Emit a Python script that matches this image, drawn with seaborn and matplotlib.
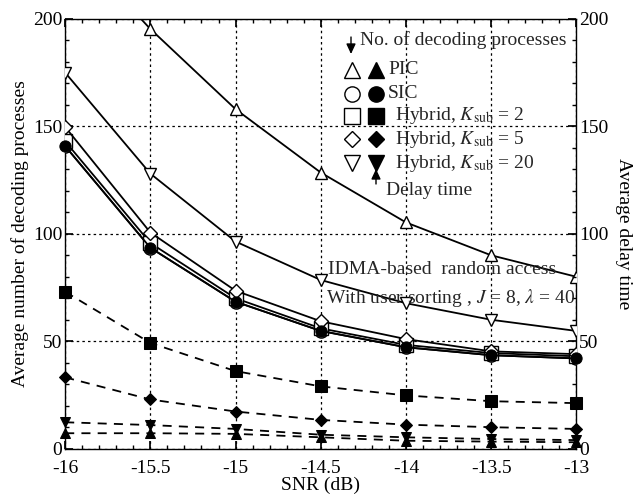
import numpy as np
import pandas as pd
import seaborn as sns
import matplotlib
matplotlib.use("Agg")
import matplotlib.pyplot as plt
from matplotlib.ticker import MultipleLocator
from matplotlib.patches import FancyArrowPatch
from matplotlib.lines import Line2D

snr = [-16, -15.5, -15, -14.5, -14, -13.5, -13]

# Average number of decoding processes (open markers, solid lines)
dec_pic = [238, 195.3, 158, 128.5, 105.3, 90, 80]
dec_sic = [140.8, 93.5, 68.4, 54.8, 47.2, 43.5, 42]
dec_h2 = [143, 95.7, 70, 56, 48.3, 44.5, 43]
dec_h5 = [149.7, 100.6, 73.5, 59.3, 51, 45.3, 44]
dec_h20 = [175, 128, 96.4, 78.5, 67.7, 60, 54.8]

# Average delay time (filled markers)
del_pic = [7.2, 7.2, 6.9, 5.3, 3.7, 3.3, 3.0]
del_sic = [140.8, 93.5, 68.4, 54.8, 47.2, 43.5, 42]
del_h2 = [73, 49.2, 36.1, 29, 24.8, 22.1, 21.2]
del_h5 = [33.2, 22.9, 17.3, 13.4, 11.2, 10, 9.2]
del_h20 = [12.3, 11, 9.2, 6.5, 5.3, 4.5, 4.0]

legend_labels = ["PIC", "SIC", r"Hybrid, $K_{\rm sub}$ = 2",
                 r"Hybrid, $K_{\rm sub}$ = 5", r"Hybrid, $K_{\rm sub}$ = 20"]
markers = ["^", "o", "s", "D", "v"]

sns.set_theme(style="ticks")
plt.rcParams["font.family"] = ["Liberation Serif", "DejaVu Serif"]
plt.rcParams["mathtext.fontset"] = "stix"

fig = plt.figure(figsize=(6.39, 4.98), dpi=100)
ax = fig.add_axes([0.102, 0.099, 0.800, 0.863])

dec_series = [dec_pic, dec_sic, dec_h2, dec_h5, dec_h20]
del_series = [del_pic, del_sic, del_h2, del_h5, del_h20]
msizes = [9, 9.5, 9.5, 7.5, 9]

for vals, m, ms in zip(dec_series, markers, msizes):
    df = pd.DataFrame({"snr": snr, "v": vals})
    sns.lineplot(data=df, x="snr", y="v", ax=ax, color="black", lw=1.3,
                 marker=m, markersize=ms, markerfacecolor="white",
                 markeredgecolor="black", markeredgewidth=1.0, zorder=3,
                 clip_on=True)

for i, (vals, m, ms) in enumerate(zip(del_series, markers, msizes)):
    df = pd.DataFrame({"snr": snr, "v": vals})
    ls = "-" if i == 1 else (0, (5, 4))
    sns.lineplot(data=df, x="snr", y="v", ax=ax, color="black", lw=1.3,
                 linestyle=ls, marker=m, markersize=ms * 0.85,
                 markerfacecolor="black", markeredgecolor="black",
                 zorder=4, clip_on=False)

fs = 14
ax.set_xlim(-16, -13)
ax.set_ylim(0, 200)
ax.set_xticks(snr)
ax.set_xticklabels(["-16", "-15.5", "-15", "-14.5", "-14", "-13.5", "-13"])
ax.set_yticks([0, 50, 100, 150, 200])
ax.xaxis.set_minor_locator(MultipleLocator(0.1))
ax.yaxis.set_minor_locator(MultipleLocator(10))
ax.tick_params(which="both", direction="in", top=True, right=True,
               labelsize=fs, colors="black")
ax.tick_params(which="major", length=6)
ax.tick_params(which="minor", length=3)
ax.tick_params(axis="x", pad=8)
ax.tick_params(axis="y", pad=2)
ax.grid(True, which="major", color="black", linestyle=(0, (2, 2.5)), lw=0.9)
for s in ax.spines.values():
    s.set_color("black")
    s.set_linewidth(1.0)
ax.set_xlabel("SNR (dB)", fontsize=fs, color="black", labelpad=0)
ax.set_ylabel("Average number of decoding processes", fontsize=fs,
              color="black", labelpad=3)

ax2 = ax.twinx()
ax2.set_ylim(0, 200)
ax2.set_yticks([0, 50, 100, 150, 200])
ax2.yaxis.set_minor_locator(MultipleLocator(10))
ax2.tick_params(which="both", direction="in", labelsize=fs, colors="black",
                pad=2)
ax2.tick_params(which="major", length=6)
ax2.tick_params(which="minor", length=3)
ax2.set_ylabel("Average delay time", fontsize=fs, color="black",
               rotation=270, labelpad=17)
for s in ax2.spines.values():
    s.set_visible(False)

def px(x, y):
    # figure pixel coords (top-left origin) -> figure fraction
    return x / 639.0, 1 - y / 498.0

def arrow(p0, p1):
    fig.add_artist(FancyArrowPatch(
        px(*p0), px(*p1), transform=fig.transFigure,
        arrowstyle="-|>,head_length=0.6,head_width=0.28", color="black",
        lw=1.0, mutation_scale=10, shrinkA=0, shrinkB=0))

fig.text(*px(360, 40), "No. of decoding processes", fontsize=fs,
         va="center", ha="left")
arrow((351, 37), (351, 54))
rows_y = [70, 94, 116, 139, 163]
text_x = [388, 388, 395, 395, 395]
for lab, m, yy, tx in zip(legend_labels, markers, rows_y, text_x):
    xo, yo = px(352, yy)
    xf, _ = px(376, yy)
    msz = 11 if m != "D" else 8.5
    fig.add_artist(Line2D([xo], [yo], marker=m, markersize=msz,
                          markerfacecolor="white", markeredgecolor="black",
                          markeredgewidth=1.0, transform=fig.transFigure))
    fig.add_artist(Line2D([xf], [yo], marker=m, markersize=msz,
                          markerfacecolor="black", markeredgecolor="black",
                          transform=fig.transFigure))
    fig.text(*px(tx, yy), lab, fontsize=fs, va="center", ha="left")
arrow((376, 184), (376, 169))
fig.text(*px(386, 190), "Delay time", fontsize=fs, va="center", ha="left")

fig.text(*px(328, 270), "IDMA-based  random access", fontsize=fs,
         va="center", ha="left")
fig.text(*px(326, 298), r"With user sorting , $J$ = 8, $\lambda$ = 40",
         fontsize=fs, va="center", ha="left")

fig.savefig("out.png", dpi=100, facecolor="white")
